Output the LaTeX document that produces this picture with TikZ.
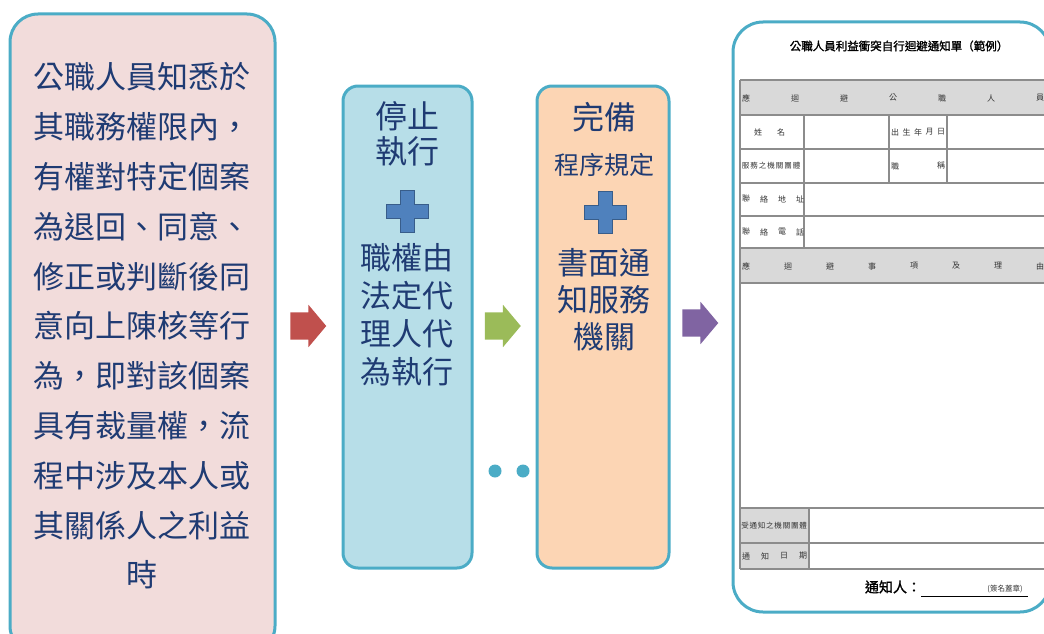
\documentclass[tikz,border=0pt]{standalone}
\usepackage{fontspec}
\setmainfont{Noto Sans CJK TC}[AutoFakeBold=1.5]
\usetikzlibrary{shapes.arrows}
\definecolor{frameteal}{HTML}{4BACC6}
\definecolor{navytext}{HTML}{1F3B73}
\definecolor{pinkfill}{HTML}{F2DCDB}
\definecolor{bluefill}{HTML}{B7DEE8}
\definecolor{orangefill}{HTML}{FCD5B4}
\definecolor{plusblue}{HTML}{4F81BD}
\definecolor{plusedge}{HTML}{385D8A}
\definecolor{arrowred}{HTML}{C0504D}
\definecolor{arrowgreen}{HTML}{9BBB59}
\definecolor{arrowpurple}{HTML}{8064A2}
\definecolor{formgray}{HTML}{D9D9D9}
\tikzset{
  stepbox/.style={draw=frameteal, line width=3pt, rounded corners=15pt, inner sep=0pt},
  bigtext/.style={text=navytext, align=center, inner sep=0pt, font=\fontsize{31}{38}\selectfont},
  blockarrow/.style={single arrow, minimum height=36pt, text height=27pt, text depth=0pt,
    text width=0pt, single arrow head extend=7.5pt, single arrow tip angle=100, inner sep=0pt},
  formline/.style={draw=black!45, line width=1.2pt},
  formtext/.style={font=\fontsize{8}{9}\selectfont, text=black!80, inner sep=0pt},
  plussign/.pic={
    \draw[fill=plusblue, draw=plusedge, line width=1pt]
      (-7,-21) -- (7,-21) -- (7,-7) -- (21,-7) -- (21,7) -- (7,7) -- (7,21)
      -- (-7,21) -- (-7,7) -- (-21,7) -- (-21,-7) -- (-7,-7) -- cycle;
  }
}
\begin{document}
\begin{tikzpicture}[x=1pt,y=-1pt]
  \useasboundingbox (0,0) rectangle (1044,634);

  % boxes
  \node[stepbox, rounded corners=28pt, fill=pinkfill, minimum width=265pt, minimum height=640pt] (rule) at (142.5,334) {};
  \node[stepbox, fill=bluefill, minimum width=129pt, minimum height=482pt] (stop) at (407.5,327) {};
  \node[stepbox, fill=orangefill, minimum width=132pt, minimum height=482pt] (notify) at (603,327) {};
  \node[stepbox, rounded corners=30pt, fill=white, minimum width=317pt, minimum height=590pt] (form) at (891.5,317) {};

  \node[bigtext, font=\fontsize{31}{49.8}\selectfont] (ruletext) at (142,326)
    {公職人員知悉於\\其職務權限內，\\有權對特定個案\\為退回、同意、\\修正或判斷後同\\意向上陳核等行\\為，即對該個案\\具有裁量權，流\\程中涉及本人或\\其關係人之利益\\時};

  \node[bigtext, font=\fontsize{32}{35}\selectfont] (stoptop) at (407,134) {停止\\執行};
  \pic (stopplus) at (407,211) {plussign};
  \node[bigtext] (stopbottom) at (407,315) {職權由\\法定代\\理人代\\為執行};

  \node[bigtext, font=\fontsize{32}{35}\selectfont] (notifytop) at (604,117) {完備};
  \node[bigtext, font=\fontsize{25}{30}\selectfont] (notifyrule) at (604,165) {程序規定};
  \pic (notifyplus) at (605,212) {plussign};
  \node[bigtext, font=\fontsize{31}{37}\selectfont] (notifybottom) at (604,300) {書面通\\知服務\\機關};

  % arrows between the boxes
  \node[blockarrow, fill=arrowred] (arrowa) at (302.5,326) {};
  \node[blockarrow, fill=arrowgreen] (arrowb) at (497,326) {};
  \node[blockarrow, fill=arrowpurple] (arrowc) at (694.5,323) {};

  \fill[frameteal] (495,471) circle (6.5);
  \fill[frameteal] (523,471) circle (6.5);

  % the form
  \node[font=\fontsize{11.5}{13}\selectfont\bfseries, inner sep=0pt] (formtitle) at (899,46)
    {公職人員利益衝突自行迴避通知單（範例）};
  \fill[formgray] (740,80) rectangle (1044,115);
  \fill[formgray] (740,248) rectangle (1044,283);
  \fill[formgray] (740,508) rectangle (809,569);
  \foreach \y in {80, 115, 149, 183, 216, 248, 283, 508, 543, 569} {
    \draw[formline] (740,\y) -- (1044,\y);
  }
  \draw[formline] (740,80) -- (740,569);
  \draw[formline] (804,115) -- (804,248);
  \draw[formline] (889,115) -- (889,183);
  \draw[formline] (947,115) -- (947,183);
  \draw[formline] (809,508) -- (809,569);

  \foreach \c [count=\i from 0] in {應,迴,避,公,職,人,員} {
    \node[formtext] at (746+49*\i,98) {\c};
  }
  \node[formtext] at (758,132) {姓};
  \node[formtext] at (781,132) {名};
  \foreach \c [count=\i from 0] in {出,生,年,月,日} {
    \node[formtext] at (895+11.5*\i,132) {\c};
  }
  \foreach \c [count=\i from 0] in {服,務,之,機,關,團,體} {
    \node[formtext, font=\fontsize{7.5}{8}\selectfont] at (745.5+8.5*\i,166) {\c};
  }
  \node[formtext] at (895,166) {職};
  \node[formtext] at (941,166) {稱};
  \foreach \c [count=\i from 0] in {聯,絡,地,址} {
    \node[formtext] at (746+18*\i,199) {\c};
  }
  \foreach \c [count=\i from 0] in {聯,絡,電,話} {
    \node[formtext] at (746+18*\i,232) {\c};
  }
  \foreach \c [count=\i from 0] in {應,迴,避,事,項,及,理,由} {
    \node[formtext] at (746+42*\i,266) {\c};
  }
  \foreach \c [count=\i from 0] in {受,通,知,之,機,關,團,體} {
    \node[formtext, font=\fontsize{7.5}{8}\selectfont] at (745+8.3*\i,526) {\c};
  }
  \foreach \c [count=\i from 0] in {通,知,日,期} {
    \node[formtext] at (746+19*\i,556) {\c};
  }

  \node[font=\fontsize{14}{16}\selectfont\bfseries, inner sep=0pt] (signer) at (893,587) {通知人：};
  \coordinate (signend) at (1028,596);
  \draw[line width=1pt] (signer.east |- signend) -- (signend);
  \node[formtext, font=\fontsize{7.5}{8}\selectfont] (signnote) at (1005,589) {(簽名蓋章)};
\end{tikzpicture}
\end{document}
